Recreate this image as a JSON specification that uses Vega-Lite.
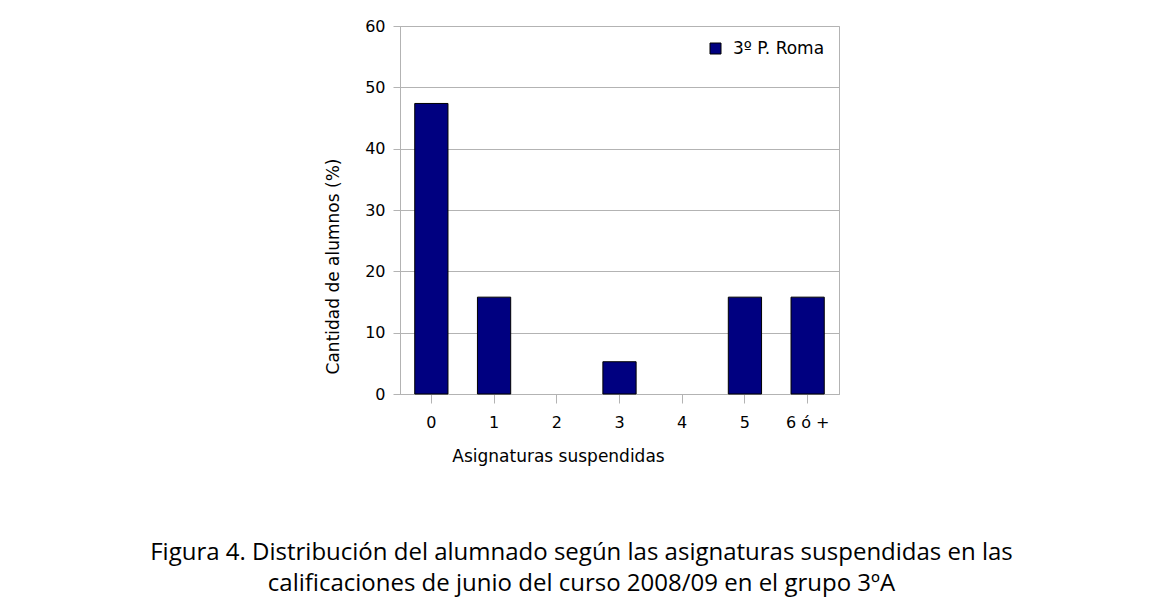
{
  "$schema": "https://vega.github.io/schema/vega-lite/v6.json",
  "autosize": "none",
  "width": 439,
  "height": 368,
  "padding": {"left": 400, "top": 26, "right": 325, "bottom": 208},
  "background": "white",
  "data": {
    "values": [
      {"asignaturas": "0", "porcentaje": 47.37, "serie": "3º P. Roma"},
      {"asignaturas": "1", "porcentaje": 15.79, "serie": "3º P. Roma"},
      {"asignaturas": "2", "porcentaje": 0, "serie": "3º P. Roma"},
      {"asignaturas": "3", "porcentaje": 5.26, "serie": "3º P. Roma"},
      {"asignaturas": "4", "porcentaje": 0, "serie": "3º P. Roma"},
      {"asignaturas": "5", "porcentaje": 15.79, "serie": "3º P. Roma"},
      {"asignaturas": "6 ó +", "porcentaje": 15.79, "serie": "3º P. Roma"}
    ]
  },
  "title": {
    "text": ["Figura 4. Distribución del alumnado según las asignaturas suspendidas en las", "calificaciones de junio del curso 2008/09 en el grupo 3ºA"],
    "orient": "bottom",
    "anchor": "middle",
    "frame": "group",
    "dx": -38,
    "offset": 77,
    "font": "Open Sans",
    "fontSize": 24,
    "fontWeight": "normal",
    "lineHeight": 31,
    "color": "black"
  },
  "mark": {"type": "bar", "stroke": "black", "strokeWidth": 1},
  "encoding": {
    "x": {
      "field": "asignaturas",
      "type": "ordinal",
      "sort": null,
      "scale": {"paddingInner": 0.47, "paddingOuter": 0.235},
      "axis": {
        "title": "Asignaturas suspendidas",
        "labelAngle": 0,
        "labelFont": "DejaVu Sans",
        "labelFontSize": 16,
        "labelColor": "black",
        "labelPadding": 11,
        "titleFont": "DejaVu Sans",
        "titleFontSize": 17,
        "titleFontWeight": "normal",
        "titleColor": "black",
        "titleX": 158,
        "titleY": 67,
        "titleBaseline": "alphabetic",
        "domainColor": "#b3b3b3",
        "tickColor": "#b3b3b3",
        "tickSize": 9,
        "grid": false
      }
    },
    "y": {
      "field": "porcentaje",
      "type": "quantitative",
      "scale": {"domain": [0, 60], "nice": false},
      "axis": {
        "title": "Cantidad de alumnos (%)",
        "values": [0, 10, 20, 30, 40, 50, 60],
        "labelFont": "DejaVu Sans",
        "labelFontSize": 16,
        "labelColor": "black",
        "labelPadding": 8,
        "titleFont": "DejaVu Sans",
        "titleFontSize": 17,
        "titleFontWeight": "normal",
        "titleColor": "black",
        "titleX": -58,
        "titleY": 240,
        "domainColor": "#b3b3b3",
        "tickColor": "#b3b3b3",
        "tickSize": 7,
        "gridColor": "#b3b3b3",
        "gridWidth": 1
      }
    },
    "strokeOpacity": {
      "condition": {"test": "datum.porcentaje == 0", "value": 0},
      "value": 1
    },
    "color": {
      "field": "serie",
      "type": "nominal",
      "scale": {"range": ["#000080"]},
      "legend": {
        "title": null,
        "orient": "top-right",
        "offset": 14,
        "symbolType": "square",
        "symbolSize": 121,
        "symbolStrokeColor": "black",
        "symbolStrokeWidth": 1,
        "symbolOpacity": 1,
        "labelOffset": 9,
        "labelFont": "DejaVu Sans",
        "labelFontSize": 17,
        "labelColor": "black"
      }
    }
  },
  "config": {
    "view": {"stroke": "#b3b3b3", "strokeWidth": 1}
  }
}
